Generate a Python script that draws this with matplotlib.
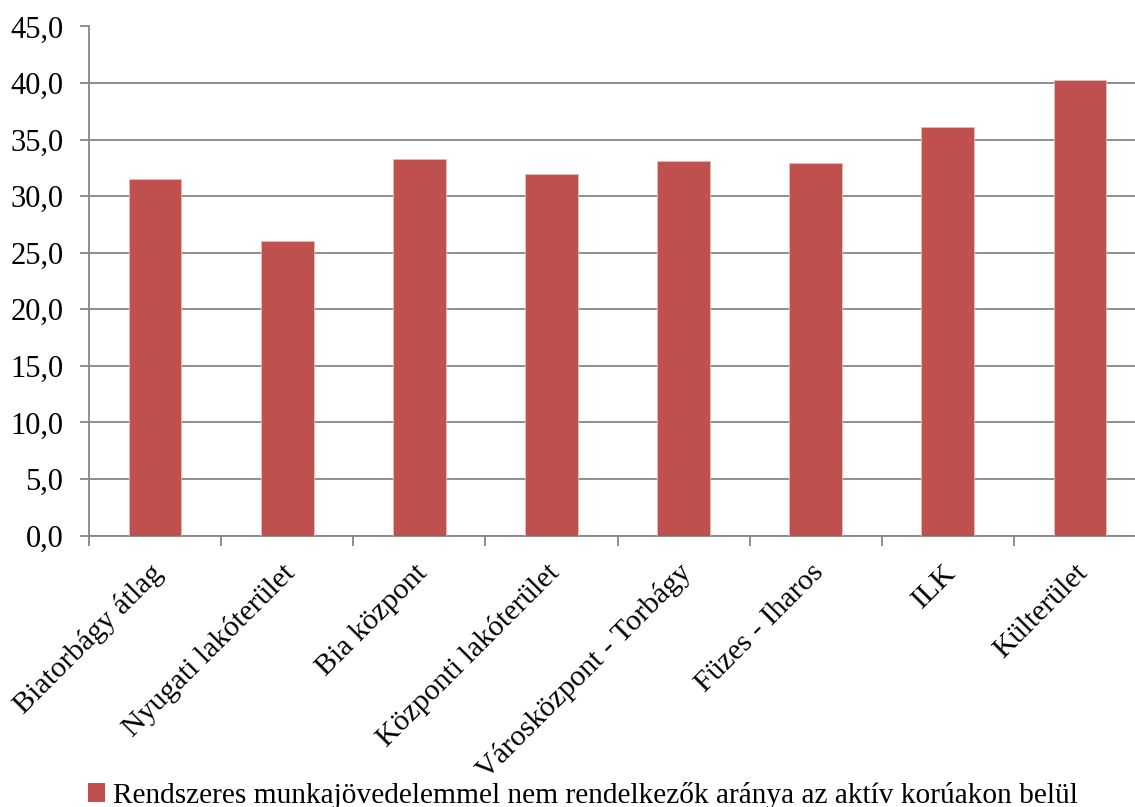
#!/usr/bin/env python3

import matplotlib
matplotlib.use("Agg")
import matplotlib.pyplot as plt
from matplotlib.ticker import FixedLocator, FuncFormatter, MultipleLocator
from matplotlib.patches import Patch
from matplotlib.transforms import ScaledTranslation

categories = [
    "Biatorbágy átlag",
    "Nyugati lakóterület",
    "Bia központ",
    "Központi lakóterület",
    "Városközpont - Torbágy",
    "Füzes - Iharos",
    "ILK",
    "Külterület",
]
values = [31.5, 26.0, 33.3, 32.0, 33.1, 32.9, 36.1, 40.3]
series_label = "Rendszeres munkajövedelemmel nem rendelkezők aránya az aktív korúakon belül"

bar_color = "#C0504D"
axis_gray = "#868686"

plt.rcParams["font.family"] = ["Liberation Serif", "DejaVu Serif"]

W, H = 1135, 807
fig = plt.figure(figsize=(W / 100, H / 100), dpi=100)

left, right, bottom, top = 89, 1146, 535.5, 26.5
ax = fig.add_axes([left / W, 1 - bottom / H, (right - left) / W, (bottom - top) / H])

x = range(len(categories))
ax.bar(x, values, width=0.4, color=bar_color, edgecolor="#E6B9B8", linewidth=0.6, zorder=3)

ax.set_xlim(-0.5, len(categories) - 0.5)
ax.set_ylim(0, 45)
ax.yaxis.set_major_locator(MultipleLocator(5))
ax.yaxis.set_major_formatter(FuncFormatter(lambda v, p: f"{v:.1f}".replace(".", ",")))
ax.grid(axis="y", color=axis_gray, linewidth=1.3, zorder=0)
ax.set_axisbelow(True)

for side in ["top", "right"]:
    ax.spines[side].set_visible(False)
for side in ["left", "bottom"]:
    ax.spines[side].set_color(axis_gray)
    ax.spines[side].set_linewidth(1.3)

ax.tick_params(axis="y", length=6.5, width=1.3, color=axis_gray, pad=12, labelsize=22)

# category labels at centers, tick marks at boundaries
ax.set_xticks(list(x))
ax.set_xticklabels(categories, rotation=45, ha="right", va="center",
                   rotation_mode="anchor", fontsize=21.5)
ax.tick_params(axis="x", which="major", length=0, pad=24)
shift = ScaledTranslation(4 / 100, 0, fig.dpi_scale_trans)
for lbl in ax.get_xticklabels():
    lbl.set_transform(lbl.get_transform() + shift)
ax.xaxis.set_minor_locator(FixedLocator([i - 0.5 for i in range(len(categories) + 1)]))
ax.tick_params(axis="x", which="minor", length=7, width=1.3, color=axis_gray)

handles = [Patch(facecolor=bar_color, edgecolor="none", label=series_label)]
fig.legend(handles=handles, loc="lower left", bbox_to_anchor=(76 / W, -14 / H),
           frameon=False, fontsize=21.2, handlelength=0.6, handleheight=0.6,
           handletextpad=0.25, borderaxespad=0)

fig.savefig("out.png", dpi=100)
